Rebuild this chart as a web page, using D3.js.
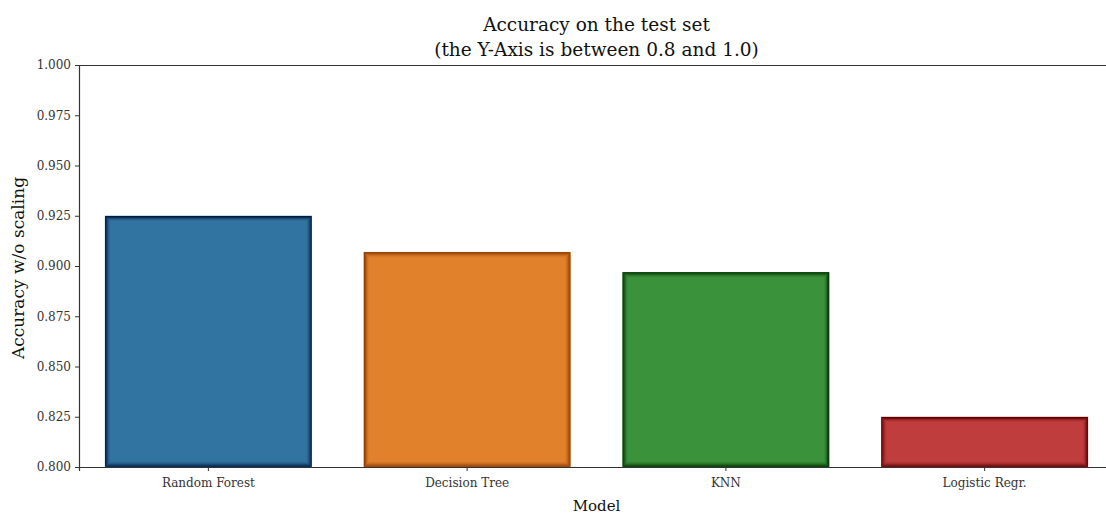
<!DOCTYPE html>
<html><head><meta charset="utf-8">
<script src="https://cdn.jsdelivr.net/npm/d3@7"></script>
<style>body{margin:0;background:#fff}svg{display:block}text{font-family:"DejaVu Serif",serif}</style>
</head><body><svg id="c" width="1106" height="514"></svg>
<script>
const models = ["Random Forest","Decision Tree","KNN","Logistic Regr."];
const accuracy = [0.925, 0.907, 0.897, 0.825];
const fills = ["#3274a1","#e1812c","#3a923a","#c03d3e"];
const edges = ["#001a40","#8a3800","#003000","#5c0000"];
const yTicks = [0.800,0.825,0.850,0.875,0.900,0.925,0.950,0.975,1.000];

const svg = d3.select("#c");
const L=79, R=1114, T=65, B=467;
const x = d3.scaleBand().domain(models).range([L,R]).paddingInner(0.2).paddingOuter(0.1);
const y = d3.scaleLinear().domain([0.8,1.0]).range([B,T]);

const g = svg.append("g");
models.forEach((m,i)=>{
  const x0=x(m), w=x.bandwidth(), y0=y(accuracy[i]), h=B-y0;
  g.append("rect").attr("x",x0).attr("y",y0).attr("width",w).attr("height",h).attr("fill",fills[i]);
  const layers=[[0.75,1],[1.75,0.75],[2.75,0.45],[3.75,0.22],[4.75,0.08]];
  layers.forEach(([ins,op])=>{
    g.append("rect").attr("x",x0+ins).attr("y",y0+ins).attr("width",w-2*ins).attr("height",h-2*ins)
     .attr("fill","none").attr("stroke",edges[i]).attr("stroke-opacity",op).attr("stroke-width",1);
  });
});

// spines
svg.append("line").attr("x1",L).attr("x2",R).attr("y1",T+0.5).attr("y2",T+0.5).attr("stroke","#333").attr("stroke-width",1.2);
svg.append("line").attr("x1",R).attr("x2",R).attr("y1",T).attr("y2",B).attr("stroke","#333");

const ya = svg.append("g").attr("transform",`translate(${L},0)`)
  .call(d3.axisLeft(y).tickValues(yTicks).tickFormat(d3.format(".3f")).tickSize(4).tickPadding(4));
ya.select(".domain").attr("stroke","#333").attr("stroke-width",1.2);
ya.selectAll(".tick line").attr("stroke","#333");
ya.selectAll("text").attr("font-size",12).attr("fill","#333").attr("font-family","DejaVu Serif");

const xa = svg.append("g").attr("transform",`translate(0,${B})`)
  .call(d3.axisBottom(x).tickSize(4).tickPadding(7));
xa.select(".domain").attr("stroke","#333").attr("stroke-width",1.2);
xa.selectAll(".tick line").attr("stroke","#333");
xa.selectAll("text").attr("font-size",12).attr("fill","#333").attr("font-family","DejaVu Serif");

svg.append("text").attr("x",(L+R)/2).attr("y",31).attr("text-anchor","middle").attr("font-size",18.5).attr("fill","#111").text("Accuracy on the test set");
svg.append("text").attr("x",(L+R)/2).attr("y",56).attr("text-anchor","middle").attr("font-size",18.5).attr("fill","#111").text("(the Y-Axis is between 0.8 and 1.0)");
svg.append("text").attr("x",(L+R)/2).attr("y",511).attr("text-anchor","middle").attr("font-size",15).attr("fill","#111").text("Model");
svg.append("text").attr("transform",`translate(24,268) rotate(-90)`).attr("text-anchor","middle").attr("font-size",17).attr("fill","#111").text("Accuracy w/o scaling");
</script></body></html>
